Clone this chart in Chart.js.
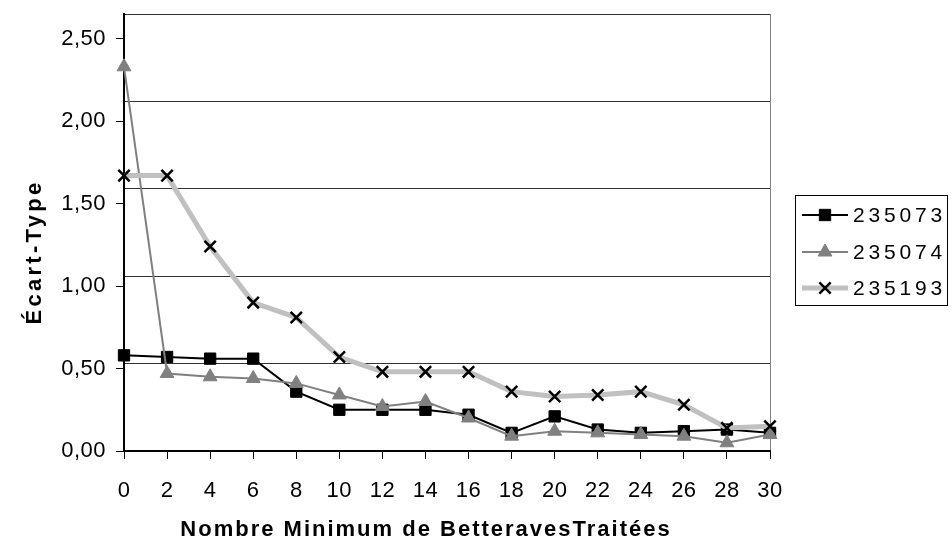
<!DOCTYPE html>
<html>
<head>
<meta charset="utf-8">
<script src="https://cdn.jsdelivr.net/npm/chart.js@4/dist/chart.umd.min.js"></script>
<style>html,body{margin:0;background:#fff}</style>
</head>
<body>
<canvas id="c" width="952" height="541"></canvas>
<script>
// données
const categories = ['0','2','4','6','8','10','12','14','16','18','20','22','24','26','28','30'];
const serie235073 = [0.58,0.57,0.56,0.56,0.36,0.25,0.25,0.25,0.22,0.11,0.21,0.13,0.11,0.12,0.13,0.11];
const serie235074 = [2.33,0.47,0.45,0.44,0.41,0.34,0.27,0.30,0.20,0.09,0.12,0.11,0.10,0.09,0.05,0.10];
const serie235193 = [1.67,1.67,1.24,0.90,0.81,0.57,0.48,0.48,0.48,0.36,0.33,0.34,0.36,0.28,0.14,0.15];
const yTicks = [0,0.5,1,1.5,2,2.5];
const gridLevels = [0.53,1.06,1.59,2.12,2.65];
const yMax = 2.65;

const FONT = 'Liberation Sans, Arial, sans-serif';

// légende encadrée + titres des axes, dessinés à la main
const decor = {
  id: 'decor',
  beforeUpdate(chart){ chart.ctx.letterSpacing = '0.5px'; },
  beforeDraw(chart){ chart.ctx.letterSpacing = '0.5px'; },
  afterDraw(chart){
    const ctx = chart.ctx;
    ctx.save();
    // titres
    ctx.fillStyle = '#000';
    ctx.font = 'bold 22px ' + FONT;
    ctx.letterSpacing = '2px';
    ctx.textAlign = 'center';
    ctx.textBaseline = 'middle';
    ctx.fillText('Nombre Minimum de BetteravesTraitées', 426, 530);
    ctx.save();
    ctx.translate(35, 252);
    ctx.rotate(-Math.PI/2);
    ctx.letterSpacing = '3.3px';
    ctx.fillText('Écart-Type', 0, 0);
    ctx.restore();

    // légende
    ctx.strokeStyle = '#000';
    ctx.lineWidth = 1;
    ctx.strokeRect(795.5, 195.5, 152, 110);
    const rows = [215, 252, 288];
    chart.data.datasets.forEach((ds, i) => {
      const y = rows[i];
      ctx.strokeStyle = ds.borderColor;
      ctx.lineWidth = ds.borderWidth;
      ctx.beginPath(); ctx.moveTo(802, y); ctx.lineTo(848, y); ctx.stroke();
      ctx.fillStyle = ds.pointBackgroundColor;
      ctx.strokeStyle = ds.pointBorderColor;
      ctx.lineWidth = ds.pointBorderWidth;
      Chart.helpers.drawPoint(ctx, {pointStyle: ds.pointStyle, radius: ds.pointRadius, borderWidth: ds.pointBorderWidth, rotation: 0}, 825, y);
      ctx.fillStyle = '#000';
      ctx.font = '21px ' + FONT;
      ctx.letterSpacing = '3.8px';
      ctx.textAlign = 'left';
      ctx.fillText(ds.label, 853, y + 1);
    });
    ctx.restore();
  }
};

new Chart(document.getElementById('c'), {
  type: 'line',
  data: {
    labels: categories,
    datasets: [
      { label: '235073', data: serie235073, order: 3,
        borderColor: '#000', borderWidth: 2,
        pointStyle: 'rect', pointRadius: 8, pointBackgroundColor: '#000', pointBorderColor: '#000', pointBorderWidth: 1 },
      { label: '235074', data: serie235074, order: 2,
        borderColor: '#808080', borderWidth: 2,
        pointStyle: 'triangle', pointRadius: 8, pointBackgroundColor: '#808080', pointBorderColor: '#808080', pointBorderWidth: 1 },
      { label: '235193', data: serie235193, order: 1,
        borderColor: '#c0c0c0', borderWidth: 5,
        pointStyle: 'crossRot', pointRadius: 8, pointBackgroundColor: '#000', pointBorderColor: '#000', pointBorderWidth: 2.5 }
    ]
  },
  options: {
    responsive: false,
    animation: false,
    clip: false,
    datasets: { line: { tension: 0, clip: false } },
    layout: { padding: { left: 0, right: 182, top: 14, bottom: 0 } },
    plugins: { legend: { display: false }, tooltip: { enabled: false } },
    scales: {
      x: {
        type: 'category',
        offset: false,
        grid: {
          color: c => c.index === categories.length - 1 ? '#808080' : 'transparent',
          tickColor: '#000', tickLength: 8, lineWidth: 1
        },
        border: { color: '#000', width: 2 },
        ticks: { color: '#000', font: { family: FONT, size: 22 }, padding: 19, maxRotation: 0, autoSkip: false },
        afterFit: s => { s.height = 90; s.paddingLeft = 0; s.paddingRight = 0; }
      },
      y: {
        min: 0, max: yMax,
        grid: { color: 'transparent', tickColor: '#000', tickLength: 8 },
        border: { color: '#000', width: 2 },
        ticks: { color: '#000', font: { family: FONT, size: 22 }, padding: 10,
          callback: v => v.toFixed(2).replace('.', ',') },
        afterBuildTicks: s => { s.ticks = yTicks.map(v => ({ value: v })); },
        afterFit: s => { s.width = 124; s.paddingTop = 0; s.paddingBottom = 0; }
      },
      yGrid: {
        position: 'left',
        min: 0, max: yMax,
        grid: { color: '#333', lineWidth: 1, drawTicks: false },
        border: { display: false },
        ticks: { display: false },
        afterBuildTicks: s => { s.ticks = gridLevels.map(v => ({ value: v })); },
        afterFit: s => { s.width = 0; s.paddingTop = 0; s.paddingBottom = 0; }
      }
    }
  },
  plugins: [decor]
});
</script>
</body>
</html>
